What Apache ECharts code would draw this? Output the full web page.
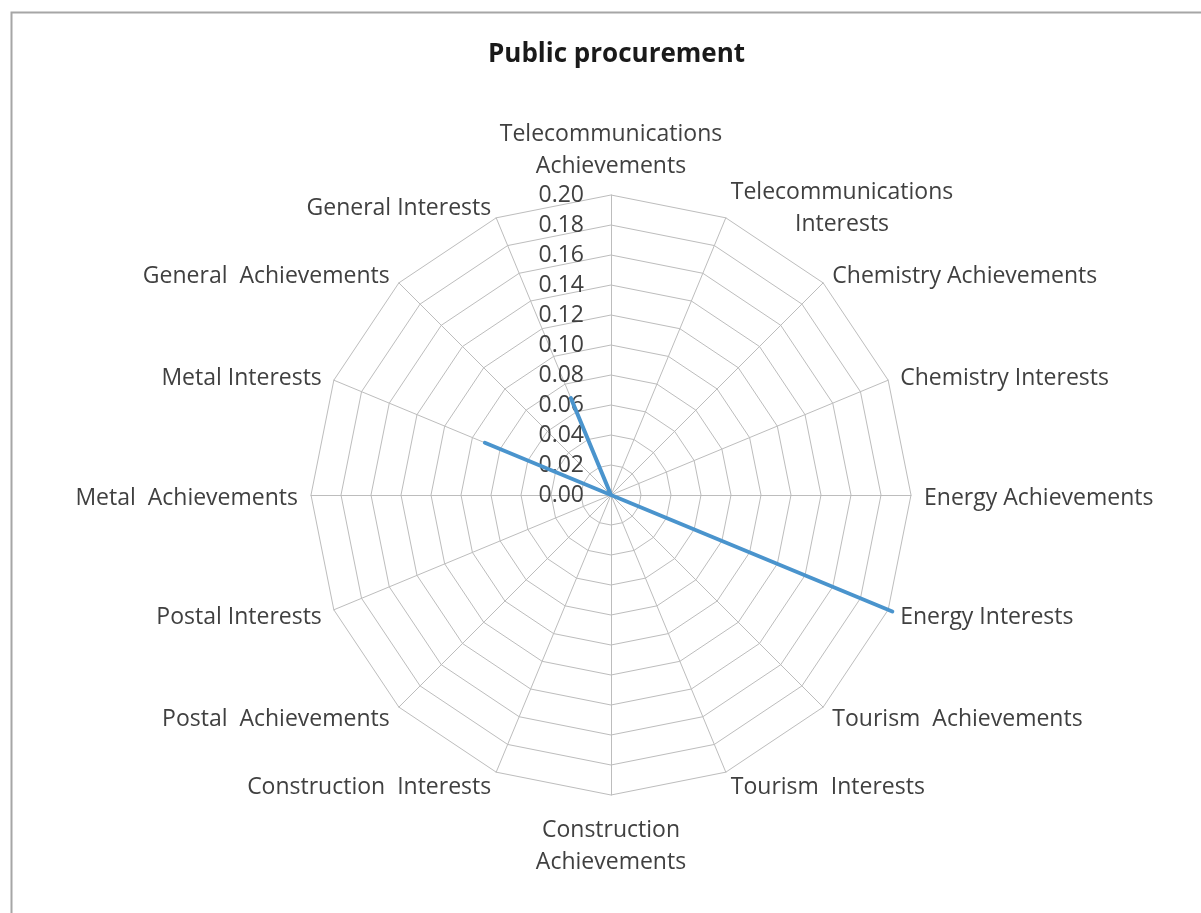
<!DOCTYPE html>
<html>
<head>
<meta charset="utf-8">
<script src="https://cdn.jsdelivr.net/npm/echarts@6/dist/echarts.min.js"></script>
<style>html,body{margin:0;padding:0;background:#fff;}#c{width:1201px;height:913px;}</style>
</head>
<body>
<div id="c"></div>
<script>
// Categories in clockwise order starting at the top
const categories = [
  'Telecommunications\nAchievements',
  'Telecommunications\nInterests',
  'Chemistry Achievements',
  'Chemistry Interests',
  'Energy Achievements',
  'Energy Interests',
  'Tourism  Achievements',
  'Tourism  Interests',
  'Construction\nAchievements',
  'Construction  Interests',
  'Postal  Achievements',
  'Postal Interests',
  'Metal  Achievements',
  'Metal Interests',
  'General  Achievements',
  'General Interests'
];
const values = [0, 0, 0, 0, 0, 0.203, 0, 0, 0, 0, 0, 0, 0, 0.091, 0, 0.070];
const axisMin = 0;
const axisMax = 0.2;
const splitCount = 10;
const titleText = 'Public procurement';

// ECharts radar places indicators counter-clockwise; reorder to get clockwise
const order = [0].concat(categories.map((_, i) => i).slice(1).reverse());
const FONT = 'Open Sans';
const indicators = order.map((i, k) => ({
  name: categories[i], min: axisMin, max: axisMax,
  axisLabel: k === 0 ? {
    show: true, color: '#404040', fontSize: 23, fontFamily: FONT,
    margin: 27, padding: [14, 0, 0, 0],
    formatter: v => Number(v).toFixed(2), showMinLabel: true, showMaxLabel: true
  } : { show: false }
}));
const seriesVals = order.map(i => values[i]);

const chart = echarts.init(document.getElementById('c'), null, { renderer: 'canvas' });
chart.setOption({
  backgroundColor: '#ffffff',
  animation: false,
  graphic: [{
    type: 'rect', left: 9, top: 10, shape: { width: 1200, height: 910 },
    style: { fill: 'none', stroke: '#a6a6a6', lineWidth: 2 }, silent: true
  }],
  title: {
    text: titleText, left: 483, top: 37,
    textStyle: { fontFamily: FONT, fontWeight: 'bold', fontSize: 26, color: '#1a1a1a' }
  },
  radar: {
    center: [611, 495],
    radius: 300,
    startAngle: 90,
    shape: 'polygon',
    splitNumber: splitCount,
    nameGap: 13,
    axisName: {
      color: '#404040', fontSize: 23, fontFamily: FONT, lineHeight: 32,
      padding: [6, 0, 0, 0],
      formatter: n => n.split('\n').map(s => '{c|' + s + '}').join('\n'),
      rich: { c: { align: 'center', color: '#404040', fontSize: 23, fontFamily: FONT, lineHeight: 32 } }
    },
    axisLine: { show: true, lineStyle: { color: '#bdbdbd', width: 1 } },
    splitLine: { show: true, lineStyle: { color: '#bdbdbd', width: 1 } },
    splitArea: { show: false },
    axisTick: { show: false },
    axisLabel: { show: false },
    indicator: indicators
  },
  series: [{
    type: 'radar',
    symbol: 'none',
    lineStyle: { color: '#4a94cd', width: 4 },
    itemStyle: { color: '#4a94cd' },
    data: [{ value: seriesVals, name: titleText }]
  }]
});
</script>
</body>
</html>
